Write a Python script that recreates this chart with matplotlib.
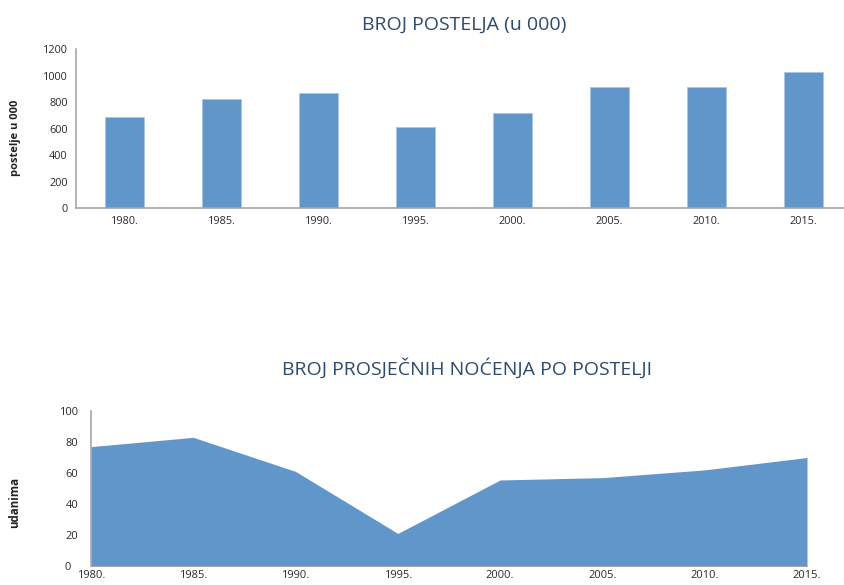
import matplotlib
matplotlib.use("Agg")
import matplotlib.pyplot as plt
import numpy as np

plt.rcParams['font.family'] = ['Open Sans', 'DejaVu Sans']

years = ["1980.", "1985.", "1990.", "1995.", "2000.", "2005.", "2010.", "2015."]
beds = [690, 820, 865, 610, 715, 910, 910, 1030]
nights = [77, 83, 61, 21, 55.5, 57, 62, 70]

bar_color = "#6096c9"
spine_color = "#a6a6a6"
title_color = "#2d4b6e"
tick_color = "#2a2a2a"

fig = plt.figure(figsize=(8.44, 5.85), dpi=100)

# Top chart
ax1 = fig.add_axes([76/844, 1-208/585, (852-76)/844, (208-49)/585])
x = np.arange(len(years))
ax1.bar(x, beds, width=0.4, color=bar_color, edgecolor="#a9c6e4", linewidth=0.6)
ax1.set_xlim(-0.5, len(years)-0.5)
ax1.set_ylim(0, 1200)
ax1.set_yticks(range(0, 1201, 200))
ax1.set_xticks(x)
ax1.set_xticklabels(years)
for s in ["top", "right"]:
    ax1.spines[s].set_visible(False)
for s in ["left", "bottom"]:
    ax1.spines[s].set_color(spine_color)
    ax1.spines[s].set_linewidth(1.2)
ax1.tick_params(axis="both", length=0, labelsize=7.8, colors=tick_color)
ax1.tick_params(axis="y", pad=6)
ax1.tick_params(axis="x", pad=6)
ax1.set_ylabel("postelje u 000", fontsize=8, fontweight="bold", color="#222222")
ax1.yaxis.set_label_coords(-0.071, 0.44)
fig.text(464/844, 1-25/585, "BROJ POSTELJA (u 000)", ha="center", va="center",
         fontsize=14, color=title_color)

# Bottom chart
ax2 = fig.add_axes([91/844, 1-566/585, (807-91)/844, (566-411)/585])
ax2.fill_between(x, nights, 0, color=bar_color, linewidth=0)
ax2.set_xlim(0, len(years)-1)
ax2.set_ylim(0, 100)
ax2.set_yticks(range(0, 101, 20))
ax2.set_xticks(x)
ax2.set_xticklabels(years)
for s in ["top", "right"]:
    ax2.spines[s].set_visible(False)
ax2.spines["left"].set_color(spine_color)
ax2.spines["left"].set_linewidth(1.2)
ax2.spines["bottom"].set_color(spine_color)
ax2.spines["bottom"].set_linewidth(0.8)
ax2.tick_params(axis="both", length=0, labelsize=8, colors=tick_color)
ax2.tick_params(axis="y", pad=9)
ax2.tick_params(axis="x", pad=3)
for lab in ax2.get_yticklabels():
    if lab.get_text() == "0":
        lab.set_x(-0.011)
ax2.set_ylabel("udanima", fontsize=8.3, fontweight="bold", color="#222222")
ax2.yaxis.set_label_coords(-0.098, 0.41)
fig.text(467/844, 1-368/585, "BROJ PROSJEČNIH NOĆENJA PO POSTELJI", ha="center", va="center",
         fontsize=14, color=title_color)

fig.savefig("out.png", dpi=100)
